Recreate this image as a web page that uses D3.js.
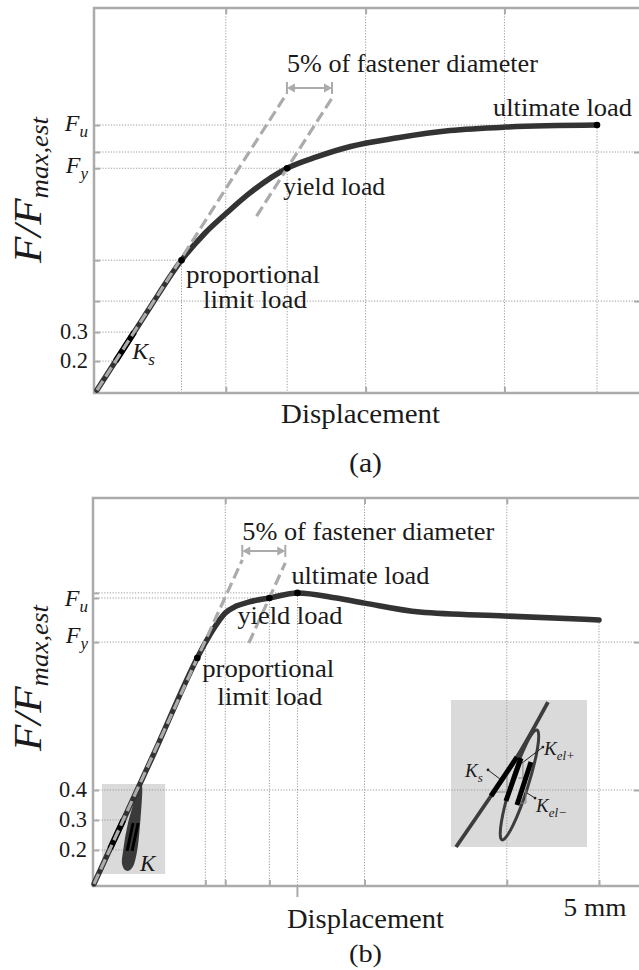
<!DOCTYPE html>
<html>
<head>
<meta charset="utf-8">
<script src="https://cdn.jsdelivr.net/npm/d3@7/dist/d3.min.js"></script>
<style>
  body { margin: 0; background: #fff; }
  svg text { font-family: "Liberation Serif", "DejaVu Serif", serif; fill: #1a1a1a; }
  .math { font-style: italic; }
</style>
</head>
<body>
<svg id="fig" width="639" height="970"></svg>
<script>
// ---------- panel (a): monotonic load curve ----------
var a_disp  = [0.03, 0.215, 0.40, 0.56, 0.87, 1.10, 1.31, 1.55, 1.92, 2.22, 2.55, 3.02, 3.54, 4.09, 5.0];
var a_force = [0.10, 0.20, 0.30, 0.387, 0.548, 0.64, 0.708, 0.78, 0.865, 0.905, 0.94, 0.97, 0.995, 1.007, 1.014];
var a_marks = [[0.87, 0.548], [1.92, 0.865], [5.0, 1.014]];      // proportional, yield, ultimate
var a_ks = [[0.215, 0.20], [0.40, 0.30]];
var a_tangent = [[0.03, 0.10], [1.918, 1.124]];
var a_offset = [[1.616, 0.70], [2.366, 1.107]];
var a_span = [1.918, 2.366, 1.142];                                 // from, to, level
var a_gridX = [1.31, 2.70, 4.08];
var a_gridY = [0.407, 0.921];
var a_guideH = [[1.014, 5.0], [0.865, 1.92], [0.548, 0.87], [0.30, 0.40], [0.20, 0.215]]; // level, reach
var a_guideV = [[0.87, 0.548], [1.92, 0.865], [5.0, 1.014]];      // position, top
var a_ticks = [0.2, 0.3];

// ---------- panel (b): cyclic load curve ----------
var b_disp  = [0.01, 0.17, 0.30, 0.60, 1.03, 1.10, 1.20, 1.307, 1.416, 1.545, 1.743, 2.02, 2.406, 2.683, 3.228, 4.069, 5.0];
var b_force = [0.087, 0.205, 0.30, 0.52, 0.84, 0.885, 0.942, 0.99, 1.013, 1.027, 1.04, 1.057, 1.04, 1.023, 0.993, 0.98, 0.967];
var b_marks = [[1.03, 0.84], [1.743, 1.04], [2.02, 1.057]];
var b_ks = [[0.17, 0.205], [0.30, 0.30]];
var b_loopX = [0.465, 0.446, 0.416, 0.376, 0.337, 0.307, 0.317, 0.366, 0.416];
var b_loopY = [0.413, 0.29, 0.197, 0.147, 0.137, 0.153, 0.197, 0.29, 0.35];
var b_kSegs = [[[0.337, 0.197], [0.396, 0.29]], [[0.386, 0.197], [0.446, 0.29]]];
var b_tangent = [[0.01, 0.087], [1.475, 1.167]];
var b_offset = [[1.54, 0.89], [1.90, 1.157]];
var b_span = [1.475, 1.90, 1.197];
var b_gridX = [1.307, 2.683, 4.089];
var b_gridY = [0.4, 0.893];
var b_guideH = [[1.057, 2.02], [1.04, 1.743], [0.30, 0.475], [0.20, 0.406]];
var b_guideV = [[1.11, 0.893], [1.743, 1.04], [2.02, 1.057], [5.0, 0.967]];
var b_ticks = [0.2, 0.3, 0.4];
var b_zoomBox = [[0.089, 0.12], [0.713, 0.42]];

// ---------- inset (unit box coordinates) ----------
var inset_lineX = [0.037, 0.294, 0.485, 0.713];
var inset_lineY = [0.0, 0.347, 0.612, 0.986];
var inset_ellipse = [[0.375, 0.048], [0.632, 0.796]];   // bottom end, top end
var inset_segs = [[[0.294, 0.347], [0.485, 0.612]],       // Ks
                  [[0.404, 0.313], [0.515, 0.605]],       // Kel+
                  [[0.485, 0.286], [0.588, 0.578]]];      // Kel-
var inset_tris = [[[0.331, 0.374], [0.412, 0.374], [0.412, 0.483]],
                  [[0.493, 0.469], [0.529, 0.469], [0.529, 0.571]],
                  [[0.507, 0.299], [0.551, 0.299], [0.551, 0.388]]];
var inset_leaders = [[[0.272, 0.524], [0.360, 0.463]],
                     [[0.676, 0.680], [0.522, 0.571]],
                     [[0.618, 0.333], [0.559, 0.367]]];

var svg = d3.select("#fig");
var GRID = "#9a9a9a", AXIS = "#ababab", CURVE = "#333", DASH = "#ababab", BOX = "#dadada";

var ix = d3.scaleLinear().domain([0, 1]).range([451, 587]);
var iy = d3.scaleLinear().domain([0, 1]).range([847, 700]);

function pairs(xs, ys) { return xs.map(function(v, i) { return [v, ys[i]]; }); }

function txt(g, str, x, y, size, width, anchor) {
  var t = g.append("text").attr("x", x).attr("y", y).attr("font-size", size)
    .attr("text-anchor", anchor || "start").text(str);
  if (width) t.attr("textLength", width).attr("lengthAdjust", "spacingAndGlyphs");
  return t;
}

function mathTxt(g, main, sub, x, y, size, subSize, anchor) {
  var t = g.append("text").attr("class", "math").attr("x", x).attr("y", y)
    .attr("font-size", size).attr("text-anchor", anchor || "start");
  t.append("tspan").text(main);
  if (sub) t.append("tspan").attr("font-size", subSize).attr("dy", size * 0.24).text(sub);
  return t;
}

function dimArrow(g, x1, x2, yy) {
  g.append("line").attr("x1", x1 + 3).attr("x2", x2 - 3).attr("y1", yy).attr("y2", yy)
    .attr("stroke", DASH).attr("stroke-width", 2);
  [[x1, 1], [x2, -1]].forEach(function(e) {
    g.append("path").attr("d", "M" + e[0] + "," + yy + "l" + (8 * e[1]) + ",-4.5v9z").attr("fill", DASH);
    g.append("line").attr("x1", e[0]).attr("x2", e[0]).attr("y1", yy - 6).attr("y2", yy + 6)
      .attr("stroke", DASH).attr("stroke-width", 2);
  });
}

function drawPanel(p) {
  var g = svg.append("g");
  var x = d3.scaleLinear().domain([0, 5]).range([p.left, p.x5]);
  var y = d3.scaleLinear().domain(p.yDomain).range([p.bottom, p.top]);
  var line = d3.line().x(function(d) { return x(d[0]); }).y(function(d) { return y(d[1]); });
  var right = 640;

  if (p.under) p.under(g, x, y);

  // dotted grid and guide lines
  var dots = g.append("g").attr("stroke", GRID).attr("stroke-width", 1).attr("stroke-dasharray", "1.2,1.6");
  p.gridX.forEach(function(v) {
    dots.append("line").attr("x1", x(v)).attr("x2", x(v)).attr("y1", p.top).attr("y2", p.bottom);
  });
  p.gridY.forEach(function(v) {
    dots.append("line").attr("x1", p.left).attr("x2", right).attr("y1", y(v)).attr("y2", y(v));
  });
  p.guideH.forEach(function(h) {
    dots.append("line").attr("x1", p.left).attr("x2", x(h[1])).attr("y1", y(h[0])).attr("y2", y(h[0]));
  });
  p.guideV.forEach(function(v) {
    dots.append("line").attr("x1", x(v[0])).attr("x2", x(v[0])).attr("y1", y(v[1])).attr("y2", p.bottom);
  });

  // inward ticks
  var levels = p.gridY.concat(p.guideH.map(function(h) { return h[0]; }));
  var axes = [
    [d3.axisBottom(x).tickValues(p.gridX), "translate(0," + p.top + ")"],
    [d3.axisTop(x).tickValues(p.gridX.concat(p.bottomTicks || [])), "translate(0," + p.bottom + ")"],
    [d3.axisRight(y).tickValues(levels), "translate(" + p.left + ",0)"],
    [d3.axisLeft(y).tickValues(p.gridY), "translate(" + right + ",0)"]
  ];
  axes.forEach(function(a) {
    var ag = g.append("g").attr("transform", a[1]).call(a[0].tickSize(6).tickFormat(""));
    ag.select(".domain").remove();
    ag.selectAll("line").attr("stroke", AXIS).attr("stroke-width", 2);
  });

  // frame
  g.append("path")
    .attr("d", "M" + right + "," + p.top + "H" + p.left + "V" + p.bottom + "H" + right)
    .attr("fill", "none").attr("stroke", AXIS).attr("stroke-width", 2.5);

  if (p.over) p.over(g, x, y, line);

  // load curve
  g.append("path").datum(pairs(p.disp, p.force))
    .attr("d", line.curve(d3.curveMonotoneX))
    .attr("fill", "none").attr("stroke", CURVE).attr("stroke-width", 5.5).attr("stroke-linecap", "round");
  line.curve(d3.curveLinear);

  if (p.over2) p.over2(g, x, y, line);

  // initial stiffness segment
  g.append("path").datum(p.ks).attr("d", line)
    .attr("stroke", "#000").attr("stroke-width", 6);

  // tangent and offset lines
  [p.tangent, p.offset].forEach(function(seg) {
    g.append("path").datum(seg).attr("d", line)
      .attr("stroke", DASH).attr("stroke-width", 3.2).attr("stroke-dasharray", "11,5");
  });
  dimArrow(g, x(p.span[0]), x(p.span[1]), y(p.span[2]));

  g.selectAll(".mark").data(p.marks).enter().append("circle")
    .attr("cx", function(d) { return x(d[0]); }).attr("cy", function(d) { return y(d[1]); })
    .attr("r", 3.3).attr("fill", "#000");

  // tick labels
  p.ticks.forEach(function(v) {
    txt(g, d3.format(".1f")(v), p.left - 6, y(v) + 7, 23, 28, "end");
  });

  // y axis title
  var t = g.append("text").attr("class", "math")
    .attr("transform", "translate(41," + p.titleY + ") rotate(-90)")
    .attr("text-anchor", "middle").attr("font-size", 40)
    .attr("textLength", 146).attr("lengthAdjust", "spacingAndGlyphs");
  t.append("tspan").text("F/F");
  t.append("tspan").attr("font-size", 25).attr("dy", 7).text("max,est");

  return { g: g, x: x, y: y };
}

function insetBox(g) {
  g.append("rect").attr("x", ix(0)).attr("y", iy(1)).attr("width", ix(1) - ix(0))
    .attr("height", iy(0) - iy(1)).attr("fill", BOX);
}

function insetMarks(g) {
  var il = d3.line().x(function(d) { return ix(d[0]); }).y(function(d) { return iy(d[1]); });
  g.append("path").datum(pairs(inset_lineX, inset_lineY)).attr("d", il.curve(d3.curveCatmullRom))
    .attr("fill", "none").attr("stroke", "#3d3d3d").attr("stroke-width", 3.8);
  il.curve(d3.curveLinear);
  var e0 = [ix(inset_ellipse[0][0]), iy(inset_ellipse[0][1])];
  var e1 = [ix(inset_ellipse[1][0]), iy(inset_ellipse[1][1])];
  var cx = (e0[0] + e1[0]) / 2, cy = (e0[1] + e1[1]) / 2;
  var len = Math.hypot(e1[0] - e0[0], e1[1] - e0[1]);
  var ang = Math.atan2(e1[1] - e0[1], e1[0] - e0[0]) * 180 / Math.PI;
  g.append("ellipse").attr("cx", cx).attr("cy", cy).attr("rx", len / 2).attr("ry", 8.5)
    .attr("transform", "rotate(" + ang + "," + cx + "," + cy + ")")
    .attr("fill", "none").attr("stroke", "#3d3d3d").attr("stroke-width", 3);
  inset_tris.forEach(function(t) {
    g.append("path").datum(t).attr("d", il).attr("fill", "none").attr("stroke", "#888").attr("stroke-width", 1);
  });
  inset_segs.forEach(function(s) {
    g.append("path").datum(s).attr("d", il).attr("stroke", "#000").attr("stroke-width", 5);
  });
  inset_leaders.forEach(function(s) {
    g.append("path").datum(s).attr("d", il).attr("stroke", "#222").attr("stroke-width", 1);
    g.append("circle").attr("cx", ix(s[0][0])).attr("cy", iy(s[0][1])).attr("r", 1.4).attr("fill", "#222");
  });
  mathTxt(g, "K", "s", ix(0.103), iy(0.476), 19, 13);
  mathTxt(g, "K", "el+", ix(0.684), iy(0.626), 19, 13);
  mathTxt(g, "K", "el\u2212", ix(0.625), iy(0.238), 19, 13);
}

// ----- panel (a) -----
var A = drawPanel({
  left: 94, x5: 597, top: 8, bottom: 393, yDomain: [0.09, 1.4176], titleY: 190,
  disp: a_disp, force: a_force, marks: a_marks, ks: a_ks, tangent: a_tangent, offset: a_offset,
  span: a_span, gridX: a_gridX, gridY: a_gridY, guideH: a_guideH, guideV: a_guideV, ticks: a_ticks
});
(function(g, x, y) {
  var pr = a_marks[0], yl = a_marks[1], ul = a_marks[2];
  txt(g, "5% of fastener diameter", x(a_span[0]), y(a_span[2]) - 16, 25, 251);
  txt(g, "ultimate load", x(ul[0]) + 35, y(ul[1]) - 9, 25, 139, "end");
  txt(g, "yield load", x(yl[0]) - 4, y(yl[1]) + 27, 25, 102);
  txt(g, "proportional", x(pr[0]) + 4.5, y(pr[1]) + 23, 25, 134);
  txt(g, "limit load", x(pr[0]) + 21.5, y(pr[1]) + 48, 25, 104);
  mathTxt(g, "K", "s", x(a_ks[1][0]) - 2, y(a_ks[0][1]) - 2, 24, 17);
  mathTxt(g, "F", "u", 88, y(ul[1]) + 6, 24, 17, "end");
  mathTxt(g, "F", "y", 88, y(yl[1]) + 5, 24, 17, "end");
  txt(g, "Displacement", 360.5, 423, 27, 159, "middle");
  txt(g, "(a)", 365.5, 472, 27, 33, "middle");
})(A.g, A.x, A.y);

// ----- panel (b) -----
var B = drawPanel({
  left: 93, x5: 599, top: 498, bottom: 886, yDomain: [0.08, 1.3733], titleY: 678,
  disp: b_disp, force: b_force, marks: b_marks, ks: b_ks, tangent: b_tangent, offset: b_offset,
  span: b_span, gridX: b_gridX, gridY: b_gridY, guideH: b_guideH, guideV: b_guideV, ticks: b_ticks,
  bottomTicks: [1.11, 1.743, 5.0],
  under: function(g, x, y) {
    g.append("rect").attr("x", x(b_zoomBox[0][0])).attr("y", y(b_zoomBox[1][1]))
      .attr("width", x(b_zoomBox[1][0]) - x(b_zoomBox[0][0]))
      .attr("height", y(b_zoomBox[0][1]) - y(b_zoomBox[1][1])).attr("fill", BOX);
    insetBox(g);
  },
  over: function(g, x, y, line) {
    insetMarks(g);
    g.append("path").datum(pairs(b_loopX, b_loopY))
      .attr("d", d3.line().x(function(d) { return x(d[0]); }).y(function(d) { return y(d[1]); })
        .curve(d3.curveCatmullRomClosed))
      .attr("fill", "#3a3a3a").attr("stroke", "#3a3a3a").attr("stroke-width", 4);
  },
  over2: function(g, x, y, line) {
    b_kSegs.forEach(function(s) {
      g.append("path").datum(s).attr("d", line).attr("stroke", "#000").attr("stroke-width", 3);
    });
  }
});
(function(g, x, y) {
  var pr = b_marks[0], yl = b_marks[1], ul = b_marks[2];
  // outward tick under the ultimate point
  g.append("line").attr("x1", x(ul[0])).attr("x2", x(ul[0])).attr("y1", 886).attr("y2", 897)
    .attr("stroke", AXIS).attr("stroke-width", 2);
  txt(g, "5% of fastener diameter", x(b_span[0]), y(b_span[2]) - 11, 25, 252);
  txt(g, "ultimate load", x(ul[0]) - 6, y(ul[1]) - 9, 25, 138);
  txt(g, "yield load", x(yl[0]) - 32, y(yl[1]) + 26, 25, 105);
  txt(g, "proportional", x(pr[0]) + 5, y(pr[1]) + 19, 25, 132);
  txt(g, "limit load", x(pr[0]) + 20, y(pr[1]) + 47, 25, 105);
  mathTxt(g, "K", null, 140, 871, 23);
  mathTxt(g, "F", "u", 88, y(yl[1]) + 8, 24, 17, "end");
  mathTxt(g, "F", "y", 88, y(b_gridY[1]) + 1, 24, 17, "end");
  txt(g, "Displacement", 365.5, 928, 27, 157, "middle");
  txt(g, "5 mm", x(5) - 4, 916, 25, 63, "middle");
  txt(g, "(b)", 365.5, 962, 26, 33, "middle");
})(B.g, B.x, B.y);
</script>
</body>
</html>
